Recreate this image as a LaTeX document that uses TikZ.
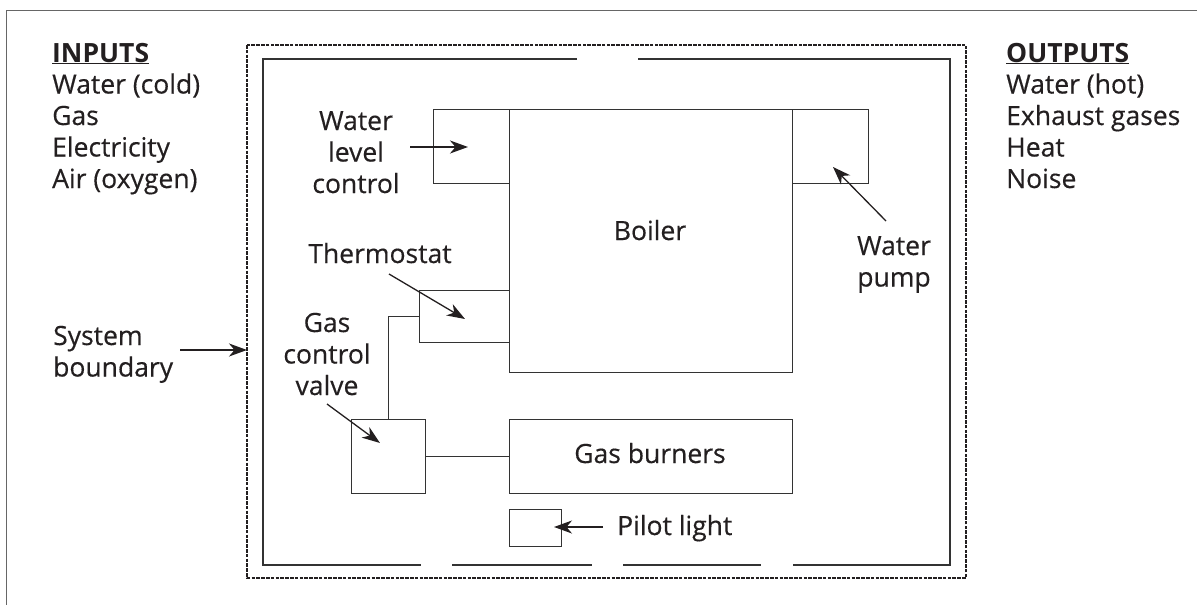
\documentclass[tikz,border=0pt]{standalone}
\usepackage{fontspec}
\setmainfont{Open Sans}[UprightFeatures={FakeBold=0.4}]
\usetikzlibrary{arrows.meta}
\definecolor{ink}{HTML}{231F20}
\definecolor{linec}{HTML}{333333}
\newcommand\ctab[1]{\begin{tabular}[t]{@{}c@{}}#1\end{tabular}}
\newcommand\ltab[1]{\begin{tabular}[t]{@{}l@{}}#1\end{tabular}}
\begin{document}
\begin{tikzpicture}[x=1pt,y=-1pt,
  box/.style={draw=linec, line width=1.4pt, inner sep=0pt, anchor=north west},
  lbl/.style={inner sep=0pt, text=ink, anchor=base, font={\fontsize{26.5}{31.5}\selectfont}},
  ptr/.style={draw=ink, line width=1.3pt, -{Stealth[length=18pt,width=13pt,inset=5.5pt]}},
  wire/.style={draw=linec, line width=1.4pt},
  bound/.style={draw=ink, line width=2.4pt, dash pattern=on 3.6pt off 1.2pt},
]
\useasboundingbox (0,0) rectangle (1197,605);
% frame
\draw[draw=black!60, line width=1pt] (6,605) -- (6,10) -- (1197,10);
% system boundary (dashed)
\draw[bound] (247,45) rectangle (966,578);
% inner enclosure with gaps
\draw[wire] (577,59) -- (263,59) -- (263,565) -- (421,565);
\draw[wire] (452,565) -- (592,565);
\draw[wire] (623,565) -- (761,565);
\draw[wire] (793,565) -- (950,565) -- (950,59) -- (638,59);
% boxes
\node[box, minimum width=283pt, minimum height=263pt] (boiler) at (509,109) {};
\node[box, minimum width=76pt, minimum height=74pt] (wlc) at (433,109) {};
\node[box, minimum width=76pt, minimum height=74pt] (pump) at (792,109) {};
\node[box, minimum width=90pt, minimum height=52pt] (thermo) at (419,290) {};
\node[box, minimum width=74pt, minimum height=74pt] (valve) at (351,419) {};
\node[box, minimum width=283pt, minimum height=74pt] (burners) at (509,419) {};
\node[box, minimum width=52pt, minimum height=37pt] (pilot) at (509,509) {};
% wires
\draw[wire] (thermo.west) -| (valve.north);
\draw[wire] (valve.east) -- (burners.west);
% labels
\node[lbl, anchor=base west] (inputs) at (52,62) {\ltab{\underline{\textbf{INPUTS}}\\Water (cold)\\Gas\\Electricity\\Air (oxygen)}};
\node[lbl, anchor=base west] (outputs) at (1006,62) {\ltab{\underline{\textbf{OUTPUTS}}\\Water (hot)\\Exhaust gases\\Heat\\Noise}};
\node[lbl] (wlcL) at (356,130) {\ctab{Water\\level\\control}};
\node[lbl] (boilerL) at (650,240) {Boiler};
\node[lbl] (burnersL) at (650,463) {Gas burners};
\node[lbl] (pumpL) at (894,255) {\ctab{Water\\pump}};
\node[lbl] (thermoL) at (380,263) {Thermostat};
\node[lbl] (valveL) at (327,332) {\ctab{Gas\\control\\valve}};
\node[lbl, anchor=base west] (sysL) at (53,345) {\ltab{System\\boundary}};
\node[lbl, anchor=base west] (pilotL) at (617,535) {Pilot light};
% arrow end points
\coordinate (wlcA) at (410,147);   \coordinate (wlcB) at (468,147);
\coordinate (pumpA) at (886,221);  \coordinate (pumpB) at (833,167);
\coordinate (thA) at (389,274);    \coordinate (thB) at (465,319);
\coordinate (vaA) at (327,404);    \coordinate (vaB) at (380,443);
\coordinate (sysA) at (180,350);   \coordinate (sysB) at (247,350);
\coordinate (piA) at (603,527);    \coordinate (piB) at (554,527);
\draw[ptr] (wlcA) -- (wlcB);
\draw[ptr] (pumpA) -- (pumpB);
\draw[ptr] (thA) -- (thB);
\draw[ptr] (vaA) -- (vaB);
\draw[ptr] (sysA) -- (sysB);
\draw[ptr] (piA) -- (piB);
\end{tikzpicture}
\end{document}
